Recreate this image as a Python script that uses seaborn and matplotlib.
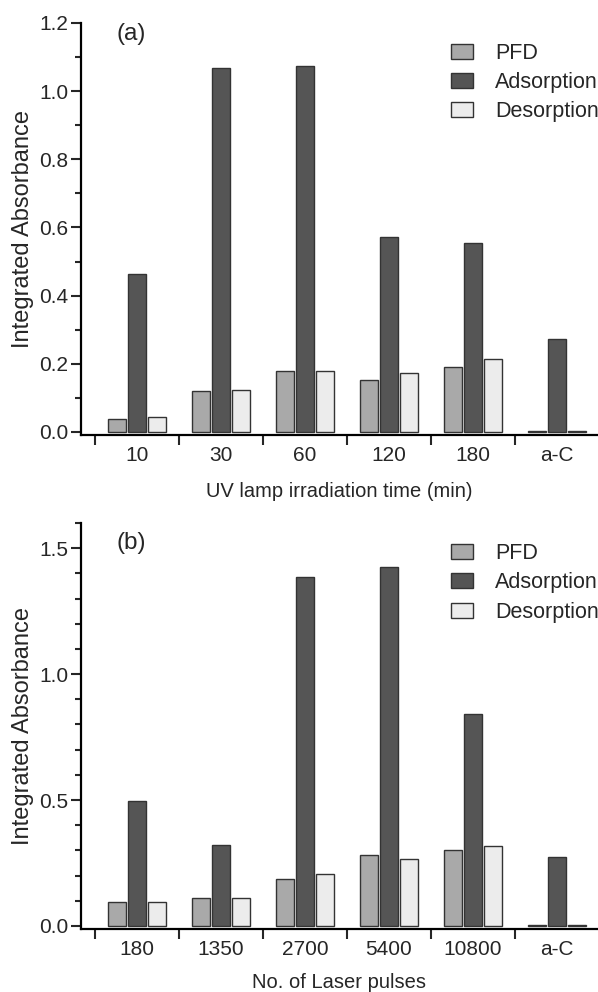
import matplotlib
matplotlib.use("Agg")
import matplotlib.pyplot as plt
import seaborn as sns
import pandas as pd
from matplotlib.ticker import MultipleLocator, FixedLocator

sns.set_theme(style="ticks")
plt.rcParams['font.family'] = ['Liberation Sans', 'DejaVu Sans']

series = ["PFD", "Adsorption", "Desorption"]
colors = ["#a9a9a9", "#555555", "#ececec"]

cats_a = ["10", "30", "60", "120", "180", "a-C"]
pfd_a = [0.037, 0.120, 0.178, 0.152, 0.190, 0.003]
ads_a = [0.463, 1.068, 1.075, 0.572, 0.555, 0.274]
des_a = [0.043, 0.122, 0.180, 0.172, 0.215, 0.003]

cats_b = ["180", "1350", "2700", "5400", "10800", "a-C"]
pfd_b = [0.094, 0.113, 0.187, 0.280, 0.300, 0.003]
ads_b = [0.497, 0.323, 1.385, 1.427, 0.843, 0.274]
des_b = [0.097, 0.113, 0.207, 0.266, 0.319, 0.003]


def long_df(cats, a, b, c):
    rows = []
    for s, vals in zip(series, [a, b, c]):
        for cat, v in zip(cats, vals):
            rows.append({"cat": cat, "series": s, "val": v})
    return pd.DataFrame(rows)


W, H = 598, 992
fig = plt.figure(figsize=(W / 100, H / 100), dpi=100)

ax_a = fig.add_axes([81 / W, 1 - 435 / H, (W - 81) / W, (435 - 23) / H])
ax_b = fig.add_axes([81 / W, 1 - 929 / H, (W - 81) / W, (929 - 523) / H])

TICK_FS = 15
XLAB_FS = 14.5
YLAB_FS = 17

for ax, cats, vals, ylim, major, xlabel, xlpad, tag, tag_y, leg_y in [
    (ax_a, cats_a, (pfd_a, ads_a, des_a), (-0.009, 1.2), 0.2,
     "UV lamp irradiation time (min)", 12, "(a)", 0.973, 0.952),
    (ax_b, cats_b, (pfd_b, ads_b, des_b), (-0.012, 1.6), 0.5,
     "No. of Laser pulses", 10, "(b)", 0.951, 0.950),
]:
    df = long_df(cats, *vals)
    sns.barplot(data=df, x="cat", y="val", hue="series", hue_order=series,
                palette=colors, width=0.714, gap=0.1, edgecolor="#333333",
                linewidth=1.0, ax=ax, legend=True, errorbar=None)
    ax.set_xlim(-0.667, 5.488)
    ax.set_ylim(*ylim)
    for sp in ["top", "right"]:
        ax.spines[sp].set_visible(False)
    for sp in ["left", "bottom"]:
        ax.spines[sp].set_linewidth(1.6)
        ax.spines[sp].set_color("black")
    ax.yaxis.set_major_locator(MultipleLocator(major))
    ax.yaxis.set_minor_locator(MultipleLocator(0.1))
    ax.yaxis.set_major_formatter(matplotlib.ticker.FormatStrFormatter("%.1f"))
    ax.tick_params(axis="y", which="major", length=7, width=1.5, labelsize=TICK_FS,
                   direction="out", pad=2)
    ax.tick_params(axis="y", which="minor", length=4, width=1.5, direction="out")
    ax.xaxis.set_minor_locator(FixedLocator([i - 0.5 for i in range(6)]))
    ax.tick_params(axis="x", which="major", length=0, labelsize=TICK_FS, pad=8)
    ax.tick_params(axis="x", which="minor", length=7, width=1.5, direction="out")
    ax.set_xlabel(xlabel, fontsize=XLAB_FS, labelpad=xlpad)
    ax.set_ylabel("Integrated Absorbance", fontsize=YLAB_FS, labelpad=4)
    ax.text(0.068, tag_y, tag, transform=ax.transAxes, fontsize=17.5,
            ha="left", va="center")
    ax.legend(frameon=False, loc="upper left", bbox_to_anchor=(0.715, leg_y),
              fontsize=15.5, borderpad=0, handlelength=1.05, handleheight=0.7,
              handletextpad=1.0, labelspacing=0.38, borderaxespad=0)
    leg = ax.get_legend()
    for h in leg.legend_handles:
        h.set_edgecolor("#333333")
        h.set_linewidth(1.0)

fig.savefig("out.png", dpi=100)
